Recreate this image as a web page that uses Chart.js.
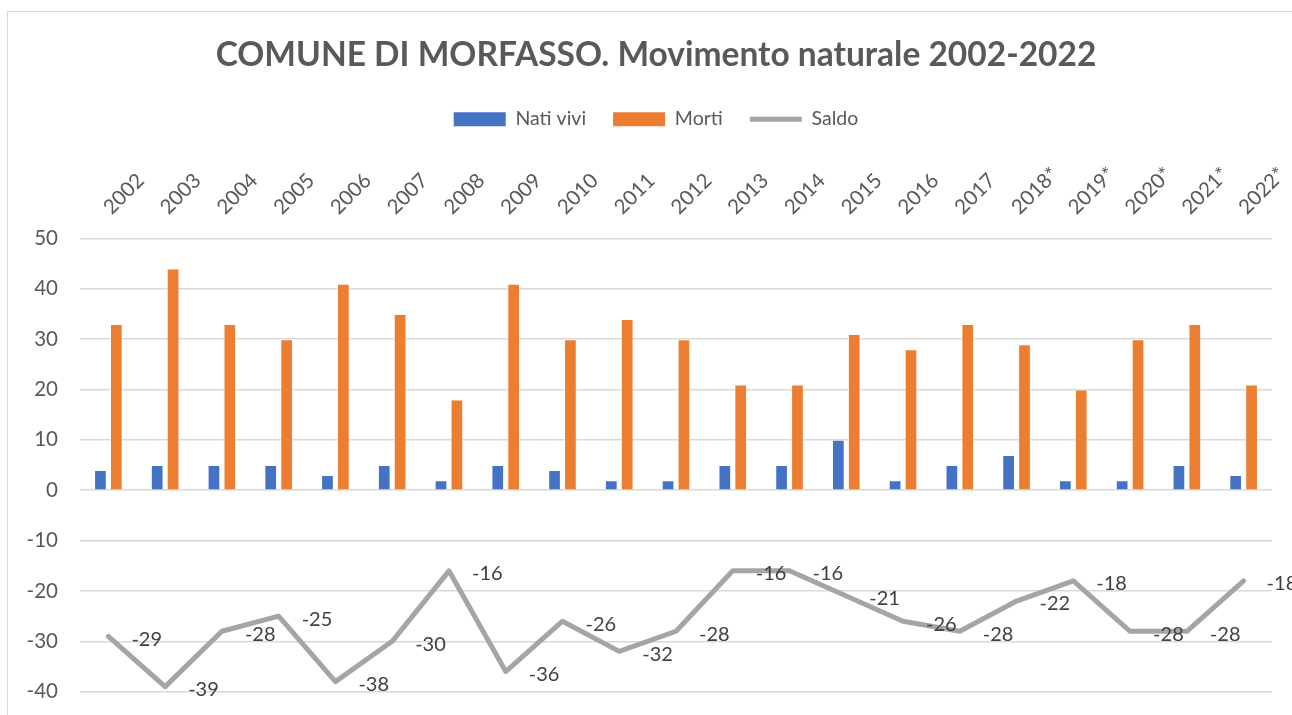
<!DOCTYPE html>
<html lang="it">
<head>
    <meta charset="UTF-8">
    <title>Comune di Morfasso - Movimento naturale</title>
    <script src="https://cdn.jsdelivr.net/npm/chart.js"></script>
    <style>
        html, body {
            margin: 0;
            padding: 0;
            background: white;
            overflow: hidden;
        }
        .frame {
            position: absolute;
            left: 7px;
            top: 11px;
            width: 1320px;
            height: 740px;
            border: 1px solid #d9d9d9; /* excel chart border */
        }
        #chart {
            position: absolute;
            left: 0;
            top: 0;
        }
    </style>
</head>
<body>
    <div class="frame"></div>
    <!-- canvas a bit bigger than the window: the original picture is cropped right and bottom -->
    <canvas id="chart" width="1312" height="726"></canvas>

    <script>
        const anni = ['2002', '2003', '2004', '2005', '2006', '2007', '2008', '2009', '2010', '2011',
            '2012', '2013', '2014', '2015', '2016', '2017', '2018*', '2019*', '2020*', '2021*', '2022*'];
        const natiVivi = [4, 5, 5, 5, 3, 5, 2, 5, 4, 2, 2, 5, 5, 10, 2, 5, 7, 2, 2, 5, 3];
        const morti = [33, 44, 33, 30, 41, 35, 18, 41, 30, 34, 30, 21, 21, 31, 28, 33, 29, 20, 30, 33, 21];
        const saldo = [-29, -39, -28, -25, -38, -30, -16, -36, -26, -32, -28, -16, -16, -21, -26, -28, -22, -18, -28, -28, -18];

        const FONT = 'Lato, "Open Sans", sans-serif';
        const TEXT_COLOR = '#595959';

        // labels next to each point of the Saldo line
        const saldoLabels = {
            id: 'saldoLabels',
            afterDatasetsDraw(chart) {
                const meta = chart.getDatasetMeta(2);
                const ctx = chart.ctx;
                ctx.save();
                ctx.font = '20px ' + FONT;
                ctx.fillStyle = '#404040';
                ctx.textAlign = 'left';
                ctx.textBaseline = 'middle';
                meta.data.forEach((pt, i) => {
                    ctx.fillText(String(saldo[i]), pt.x + 23, pt.y + 3);
                });
                ctx.restore();
            }
        };

        new Chart(document.getElementById('chart'), {
            type: 'bar',
            data: {
                labels: anni,
                datasets: [
                    {
                        label: 'Nati vivi',
                        data: natiVivi,
                        backgroundColor: '#4472C4',
                        borderColor: 'rgba(255,255,255,0.5)',
                        borderWidth: 1,
                        barPercentage: 0.8,
                        categoryPercentage: 0.56
                    },
                    {
                        label: 'Morti',
                        data: morti,
                        backgroundColor: '#ED7D31',
                        borderColor: 'rgba(255,255,255,0.5)',
                        borderWidth: 1,
                        barPercentage: 0.8,
                        categoryPercentage: 0.56
                    },
                    {
                        type: 'line',
                        label: 'Saldo',
                        data: saldo,
                        borderColor: '#A5A5A5',
                        backgroundColor: '#A5A5A5',
                        borderWidth: 5,
                        borderJoinStyle: 'round',
                        borderCapStyle: 'round',
                        pointRadius: 0,
                        pointHoverRadius: 0,
                        tension: 0
                    }
                ]
            },
            options: {
                responsive: false,
                animation: false,
                layout: {
                    padding: { top: 35, right: 0, bottom: 12, left: 0 }
                },
                plugins: {
                    title: {
                        display: true,
                        text: 'COMUNE DI MORFASSO. Movimento naturale 2002-2022',
                        color: TEXT_COLOR,
                        font: { family: FONT, size: 33.5, weight: 'bold' },
                        padding: { top: 0, bottom: 7.2 }
                    },
                    legend: {
                        position: 'top',
                        labels: {
                            color: TEXT_COLOR,
                            font: { family: FONT, size: 19.5 },
                            usePointStyle: true,
                            pointStyleWidth: 52,
                            boxHeight: 14,
                            padding: 27,
                            generateLabels(chart) {
                                const items = Chart.defaults.plugins.legend.labels.generateLabels(chart);
                                items.forEach(it => {
                                    it.pointStyle = it.datasetIndex === 2 ? 'line' : 'rect';
                                    if (it.datasetIndex !== 2) {
                                        it.lineWidth = 0;
                                    }
                                });
                                return items;
                            }
                        }
                    },
                    tooltip: { enabled: false }
                },
                scales: {
                    x: {
                        position: 'top',
                        offset: true,
                        grid: { display: false, drawTicks: false },
                        border: { display: false },
                        ticks: {
                            color: TEXT_COLOR,
                            font: { family: FONT, size: 20.5 },
                            minRotation: 45,
                            maxRotation: 45,
                            autoSkip: false,
                            labelOffset: 16,
                            padding: 19
                        },
                        afterFit(scale) {
                            scale.height = 99.5;
                        }
                    },
                    y: {
                        min: -40,
                        max: 50,
                        grid: { color: '#D9D9D9', lineWidth: 1.5, drawTicks: false },
                        border: { display: false },
                        ticks: {
                            stepSize: 10,
                            color: TEXT_COLOR,
                            font: { family: FONT, size: 20.5 },
                            padding: 22
                        },
                        afterFit(scale) {
                            scale.width = 80;
                        }
                    },
                    // empty box on the right, only to take up space
                    spazio: {
                        position: 'right',
                        grid: { display: false, drawTicks: false },
                        border: { display: false },
                        ticks: { display: false },
                        afterFit(scale) {
                            scale.width = 40;
                        }
                    }
                }
            },
            plugins: [saldoLabels]
        });
    </script>
</body>
</html>
